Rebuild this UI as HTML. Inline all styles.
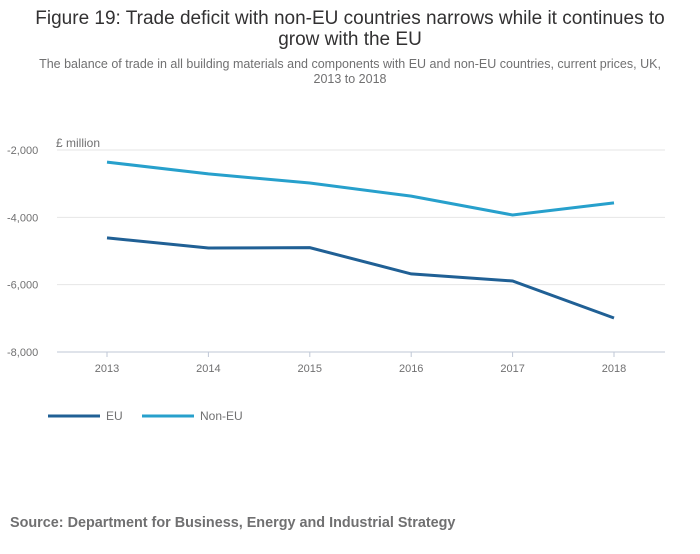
<!DOCTYPE html>
<html><head><meta charset="utf-8"><style>
body{margin:0;width:700px;height:549px;background:#fff;font-family:"Liberation Sans",sans-serif;overflow:hidden}
</style></head><body>
<svg width="700" height="549">
<text x="350" y="24" text-anchor="middle" font-size="19" fill="#323132">Figure 19: Trade deficit with non-EU countries narrows while it continues to</text>
<text x="350" y="45" text-anchor="middle" font-size="19" fill="#323132">grow with the EU</text>
<text x="350" y="68" text-anchor="middle" font-size="12.5" fill="#707071">The balance of trade in all building materials and components with EU and non-EU countries, current prices, UK,</text>
<text x="350" y="83" text-anchor="middle" font-size="12.5" fill="#707071">2013 to 2018</text>
<text x="56" y="147" font-size="12" fill="#707071">£ million</text>
<g id="grid"></g><g id="lines"></g>
<g>
<line x1="48" y1="416" x2="100" y2="416" stroke="#206095" stroke-width="3"/>
<text x="106" y="420" font-size="12" fill="#707071">EU</text>
<line x1="142" y1="416" x2="194" y2="416" stroke="#27a0cc" stroke-width="3"/>
<text x="200" y="420" font-size="12" fill="#707071">Non-EU</text>
</g>
<text x="10" y="527" font-size="14.4" font-weight="bold" fill="#707071">Source: Department for Business, Energy and Industrial Strategy</text>
</svg>
<script>
const years=["2013","2014","2015","2016","2017","2018"];
const euValues=[-4610,-4910,-4900,-5680,-5890,-6990];
const nonEuValues=[-2360,-2710,-2980,-3370,-3930,-3570];
const yTicks=[-2000,-4000,-6000,-8000];
const ns="http://www.w3.org/2000/svg";
function x(i){return 107+i*101.4;}
function y(v){return 150+(-2000-v)*(202/6000);}
const grid=document.getElementById('grid'),lines=document.getElementById('lines');
yTicks.forEach(t=>{
 const l=document.createElementNS(ns,'line');
 
 
 l.setAttribute('x1',57);l.setAttribute('x2',665);l.setAttribute('y1',y(t));l.setAttribute('y2',y(t));
 l.setAttribute('stroke',t===-8000?'#bfc7d6':'#e6e6e6');l.setAttribute('stroke-width',1);
 grid.appendChild(l);
 const tx=document.createElementNS(ns,'text');
 
 
 tx.setAttribute('x',7);tx.setAttribute('y',y(t)+4);tx.setAttribute('font-size',11);tx.setAttribute('fill','#707071');
 tx.textContent=t.toLocaleString('en-GB');
 grid.appendChild(tx);
});
years.forEach((yr,i)=>{
 const tk=document.createElementNS(ns,'line');
 
 
 tk.setAttribute('x1',x(i));tk.setAttribute('x2',x(i));tk.setAttribute('y1',352);tk.setAttribute('y2',357);tk.setAttribute('stroke','#bfc7d6');
 grid.appendChild(tk);
 const tx=document.createElementNS(ns,'text');
 
 
 tx.setAttribute('x',x(i));tx.setAttribute('y',372);tx.setAttribute('font-size',11);tx.setAttribute('fill','#707071');tx.setAttribute('text-anchor','middle');
 tx.textContent=yr;
 grid.appendChild(tx);
});
function series(vals,color,name){
 const p=document.createElementNS(ns,'polyline');
 
 
 p.setAttribute('points',vals.map((v,i)=>x(i)+','+y(v)).join(' '));
 p.setAttribute('fill','none');p.setAttribute('stroke',color);p.setAttribute('stroke-width',3);
 lines.appendChild(p);
}
series(euValues,'#206095','eu-line');
series(nonEuValues,'#27a0cc','non-eu-line');
</script>
</body></html>
